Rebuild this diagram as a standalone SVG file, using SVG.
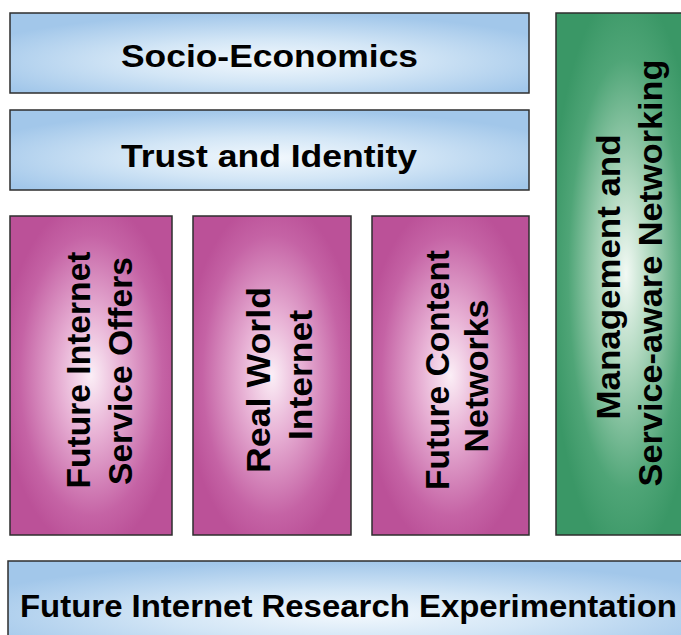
<svg xmlns="http://www.w3.org/2000/svg" width="681" height="635" viewBox="0 0 681 635">
<defs>
<radialGradient id="gBlue" cx="0.5" cy="0.6" r="0.6">
<stop offset="0" stop-color="#f2f8fd"/>
<stop offset="0.45" stop-color="#d3e6f6"/>
<stop offset="1" stop-color="#a2c7ea"/>
</radialGradient>
<radialGradient id="gPink" cx="0.5" cy="0.5" r="0.55">
<stop offset="0" stop-color="#fbeef6"/>
<stop offset="0.35" stop-color="#e7b0d4"/>
<stop offset="0.8" stop-color="#c563a5"/>
<stop offset="1" stop-color="#bb5198"/>
</radialGradient>
<radialGradient id="gGreen" cx="0.5" cy="0.5" r="0.55">
<stop offset="0" stop-color="#f2f9f4"/>
<stop offset="0.3" stop-color="#b4dac2"/>
<stop offset="0.75" stop-color="#4fa577"/>
<stop offset="1" stop-color="#3a9766"/>
</radialGradient>
<style>
.box{stroke:#2e2e2e;stroke-width:1.5}
.blue{fill:url(#gBlue)}
.pink{fill:url(#gPink)}
.green{fill:url(#gGreen)}
text{font-family:"Liberation Sans",Arial,sans-serif;font-weight:bold;fill:#000;text-anchor:middle}
.h{font-size:31px}
.v{font-size:33px}
</style>
</defs>
<rect width="681" height="635" fill="#ffffff"/>
<g id="socio-economics">
<rect class="box blue" x="10" y="13" width="519" height="80"/>
<text class="h" x="269.5" y="67" textLength="297" lengthAdjust="spacingAndGlyphs">Socio-Economics</text>
</g>
<g id="trust-identity">
<rect class="box blue" x="10" y="110" width="519" height="80"/>
<text class="h" x="269" y="167" textLength="296" lengthAdjust="spacingAndGlyphs">Trust and Identity</text>
</g>
<g id="service-offers">
<rect class="box pink" x="10" y="216" width="162" height="319"/>
<text class="v" transform="translate(90,370) rotate(-90)" textLength="237" lengthAdjust="spacingAndGlyphs">Future Internet</text>
<text class="v" transform="translate(132,371) rotate(-90)" textLength="228" lengthAdjust="spacingAndGlyphs">Service Offers</text>
</g>
<g id="real-world">
<rect class="box pink" x="193" y="216" width="158" height="319"/>
<text class="v" transform="translate(270,380) rotate(-90)" textLength="186" lengthAdjust="spacingAndGlyphs">Real World</text>
<text class="v" transform="translate(312,375) rotate(-90)" textLength="130" lengthAdjust="spacingAndGlyphs">Internet</text>
</g>
<g id="content-networks">
<rect class="box pink" x="372" y="216" width="157" height="319"/>
<text class="v" transform="translate(449,370) rotate(-90)" textLength="240" lengthAdjust="spacingAndGlyphs">Future Content</text>
<text class="v" transform="translate(488,376) rotate(-90)" textLength="153" lengthAdjust="spacingAndGlyphs">Networks</text>
</g>
<g id="management">
<rect class="box green" x="556" y="13" width="140" height="522"/>
<text class="v" transform="translate(620,277) rotate(-90)" textLength="285" lengthAdjust="spacingAndGlyphs">Management and</text>
<text class="v" transform="translate(662,273) rotate(-90)" textLength="427" lengthAdjust="spacingAndGlyphs">Service-aware Networking</text>
</g>
<g id="fire">
<rect class="box blue" x="8" y="561" width="690" height="90"/>
<text class="h" x="348.5" y="617" textLength="657" lengthAdjust="spacingAndGlyphs">Future Internet Research Experimentation</text>
</g>
<g id="connectors"></g>
</svg>
